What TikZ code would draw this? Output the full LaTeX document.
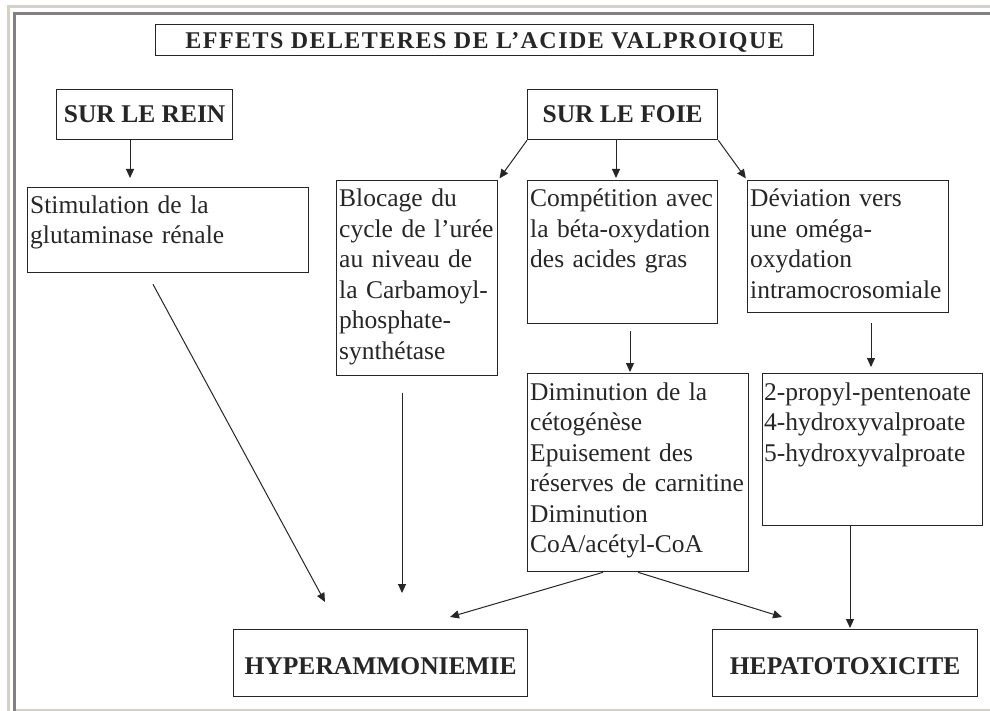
\documentclass[tikz,border=0pt]{standalone}
\usepackage{fontspec}
\setmainfont{Liberation Serif}
\usetikzlibrary{calc,arrows.meta}
\definecolor{frameL}{HTML}{D4D0C8}
\definecolor{frameD}{HTML}{808080}
\definecolor{ink}{HTML}{262626}
\tikzset{
  box/.style={draw=ink, line width=1.3pt, inner sep=0pt, anchor=north west},
  txt/.style={anchor=base west, inner sep=0pt, align=left, text=ink, font=\fontsize{25.5}{30.5}\selectfont},
  hd/.style={inner sep=0pt, text=ink, font=\fontsize{25.5}{30}\selectfont\bfseries},
  arr/.style={draw=ink, line width=1pt, -{Triangle[length=9pt,width=8pt]}},
}
\begin{document}
\begin{tikzpicture}[x=1pt,y=-1pt]
\useasboundingbox (0,0) rectangle (990,711);
\fill[white] (0,0) rectangle (990,711);
% window frame
\draw[frameL, line width=3pt] (8.5,711) -- (8.5,6.5) -- (990,6.5);
\draw[frameD, line width=3pt] (14.5,711) -- (14.5,13.5) -- (990,13.5);
\draw[frameL, line width=2pt] (16,710) -- (990,710);

% boxes
\node[box, minimum width=658pt, minimum height=31pt] (title) at (155,24) {};
\node[box, minimum width=176pt, minimum height=50pt] (rein) at (56,89) {};
\node[box, minimum width=190pt, minimum height=50pt] (foie) at (527,89) {};
\node[box, minimum width=281pt, minimum height=85pt] (stim) at (27,187) {};
\node[box, minimum width=161pt, minimum height=195pt] (bloc) at (336,180) {};
\node[box, minimum width=190pt, minimum height=143pt] (comp) at (527,180) {};
\node[box, minimum width=201pt, minimum height=132pt] (dev) at (747,180) {};
\node[box, minimum width=221pt, minimum height=198pt] (dim) at (527,373) {};
\node[box, minimum width=220pt, minimum height=152pt] (prop) at (762,373) {};
\node[box, minimum width=294pt, minimum height=67pt] (hyper) at (233,629) {};
\node[box, minimum width=265pt, minimum height=67pt] (hepato) at (712,629) {};

% headings
\node[hd, anchor=base, font=\fontsize{24}{30}\selectfont\bfseries\addfontfeature{LetterSpace=6}] (titletxt) at ($(title.south)+(0,-8)$) {EFFETS DELETERES DE L'ACIDE VALPROIQUE};
\node[hd] (reintxt) at (rein.center) {SUR LE REIN};
\node[hd] (foietxt) at (foie.center) {SUR LE FOIE};
\node[hd] (hypertxt) at ($(hyper.center)+(0,3)$) {HYPERAMMONIEMIE};
\node[hd] (hepatotxt) at ($(hepato.center)+(0,3)$) {HEPATOTOXICITE};

% body texts
\node[txt, text width=275pt] (stimtxt) at ($(stim.north west)+(3,26.5)$) {Stimulation de la\\glutaminase rénale};
\node[txt, text width=160pt] (bloctxt) at ($(bloc.north west)+(3,27)$) {Blocage du\\cycle de l’urée\\au niveau de\\la Carbamoyl-\\phosphate-\\synthétase};
\node[txt, text width=190pt] (comptxt) at ($(comp.north west)+(3,27)$) {Compétition avec\\la béta-oxydation\\des acides gras};
\node[txt, text width=200pt] (devtxt) at ($(dev.north west)+(3,27)$) {Déviation vers\\une oméga-\\oxydation\\intramocrosomiale};
\node[txt, text width=220pt] (dimtxt) at ($(dim.north west)+(3,27)$) {Diminution de la\\cétogénèse\\Epuisement des\\réserves de carnitine\\Diminution\\CoA/acétyl-CoA};
\node[txt, text width=220pt] (proptxt) at ($(prop.north west)+(2,27)$) {2-propyl-pentenoate\\4-hydroxyvalproate\\5-hydroxyvalproate};

% connectors
\draw[arr, shorten >=9pt] (rein.south -| 130,0) -- (stim.north -| 130,0);
\draw[arr, shorten >=2pt] (foie.south west) -- (bloc.north east);
\draw[arr, shorten >=2pt] (foie.south -| 616,0) -- (comp.north -| 616,0);
\draw[arr, shorten >=2pt] (foie.south east) -- (dev.north west);
\draw[arr] ($(stim.south -| 153,0)+(0,11)$) -- ($(hyper.north -| 325,0)+(0,-27)$);
\draw[arr] ($(bloc.south -| 402,0)+(0,17)$) -- ($(hyper.north -| 402,0)+(0,-36)$);
\draw[arr, shorten <=7pt, shorten >=1pt] (comp.south -| 630,0) -- (dim.north -| 630,0);
\draw[arr, shorten <=10pt, shorten >=6pt] (dev.south -| 871,0) -- (prop.north -| 871,0);
\draw[arr] (dim.south -| 603,0) -- ($(hyper.north -| 450,0)+(0,-12)$);
\draw[arr] (dim.south -| 638,0) -- ($(hepato.north -| 782,0)+(0,-12)$);
\draw[arr, shorten >=1pt] (prop.south -| 850,0) -- (hepato.north -| 850,0);
\end{tikzpicture}
\end{document}
